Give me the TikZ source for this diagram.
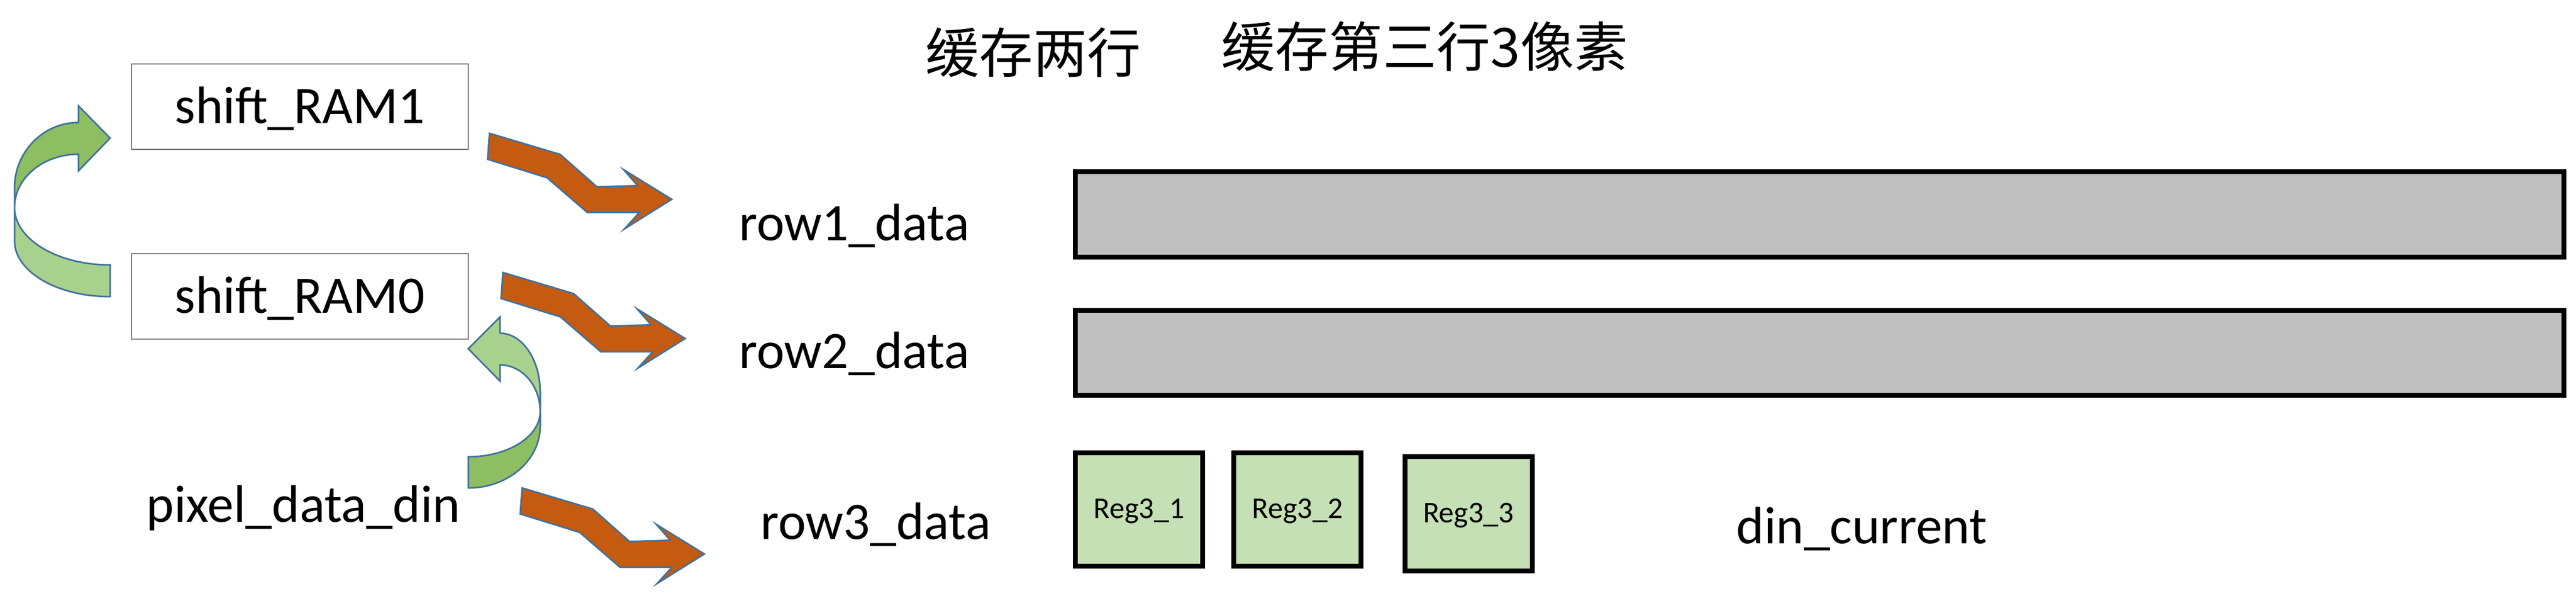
\documentclass[tikz,border=0pt]{standalone}
\usepackage{fontspec}
\setmainfont{Carlito}
\newfontfamily\cjkfont{Noto Sans CJK SC}
\definecolor{zigorange}{HTML}{C55A11}
\definecolor{edgeblue}{HTML}{41719C}
\definecolor{greenlight}{HTML}{A9D18E}
\definecolor{greendark}{HTML}{8DBE62}
\definecolor{barfill}{HTML}{BFBFBF}
\definecolor{regfill}{HTML}{C5E0B4}

\begin{document}
\begin{tikzpicture}[line join=miter,
    ram node/.style={rectangle,draw=black!55,line width=0.02cm,minimum width=6.27cm,minimum height=1.59cm,
                     inner sep=0pt,text height=0.62cm,text depth=0cm,font=\fontsize{27.9}{33}\selectfont},
    bar node/.style={rectangle,draw=black,fill=barfill,line width=0.09cm,minimum width=27.72cm,inner sep=0pt},
    reg node/.style={rectangle,draw=black,fill=regfill,line width=0.09cm,minimum width=2.37cm,minimum height=2.11cm,
                     inner sep=0pt,text height=0.34cm,text depth=0cm,font=\fontsize{16}{19}\selectfont},
    label node/.style={inner sep=0pt,anchor=base west,font=\fontsize{27.9}{33}\selectfont},
    title node/.style={inner sep=0pt,font=\cjkfont\fontsize{28.5}{34}\selectfont},
    zigzag arrow/.style={fill=zigorange,draw=edgeblue,line width=0.03cm},
    bend arrow/.style={draw=edgeblue,line width=0.03cm}]

  \useasboundingbox (0,0) rectangle (47.97,11.09);

  % titles
  \node[title node] (title1) at (19.24,10.11) {缓存两行};
  \node[title node] (title2) at (26.53,10.23) {缓存第三行3像素};

  % shift rams and input
  \node[ram node] (ram1) at (5.585,9.105) {shift\_RAM1};
  \node[ram node] (ram0) at (5.585,5.575) {shift\_RAM0};
  \node[label node] (din) at (2.72,1.37) {pixel\_data\_din};

  % row buffers
  \node[label node] (row1) at (13.76,6.61) {row1\_data};
  \node[label node] (row2) at (13.76,4.23) {row2\_data};
  \node[label node] (row3) at (14.16,1.05) {row3\_data};
  \node[bar node,minimum height=1.59cm] (bar1) at (33.885,7.10) {};
  \node[bar node,minimum height=1.58cm] (bar2) at (33.885,4.525) {};
  \node[reg node] (reg1) at (21.21,1.61) {Reg3\_1};
  \node[reg node] (reg2) at (24.16,1.61) {Reg3\_2};
  \node[reg node,minimum height=2.13cm] (reg3) at (27.345,1.53) {Reg3\_3};
  \node[label node] (cur) at (32.33,0.97) {din\_current};

  % zigzag arrows to the rows
  \foreach \tx/\ty in {9.116/8.609, 9.366/6.019, 9.723/2.01}
    \draw[zigzag arrow,shift={(\tx,\ty)}] (0,0) -- (1.317,-0.393) -- (2.00,-0.996) -- (2.759,-0.974)
      -- (2.50,-0.679) -- (3.393,-1.228) -- (2.514,-1.777) -- (2.79,-1.474) -- (1.822,-1.474)
      -- (1.071,-0.826) -- (-0.036,-0.483) -- cycle;

  % ram0 -> ram1
  \draw[bend arrow,fill=greenlight] (2.05,5.57) arc[start angle=270,end angle=180,x radius=1.78,y radius=1.04]
    -- (0.27,7.23) arc[start angle=180,end angle=270,x radius=1.78,y radius=1.07] -- cycle;
  \draw[bend arrow,fill=greendark] (0.27,7.23) -- (0.27,7.59)
    arc[start angle=180,end angle=90,x radius=1.19,y radius=1.22]
    -- (1.46,9.12) -- (2.05,8.52) -- (1.46,7.91) -- (1.46,8.22)
    arc[start angle=90,end angle=180,x radius=1.19,y radius=0.99] -- cycle;

  % din -> ram0
  \draw[bend arrow,fill=greendark] (8.72,2.01) arc[start angle=270,end angle=360,x radius=1.34,y radius=1.15]
    -- (10.06,3.43) arc[start angle=0,end angle=-90,x radius=1.34,y radius=0.84] -- cycle;
  \draw[bend arrow,fill=greenlight] (10.06,3.43) -- (10.06,3.79)
    arc[start angle=0,end angle=90,x radius=0.75,y radius=1.10]
    -- (9.31,5.19) -- (8.72,4.60) -- (9.31,4.00) -- (9.31,4.30)
    arc[start angle=90,end angle=0,x radius=0.75,y radius=0.87] -- cycle;

\end{tikzpicture}
\end{document}
